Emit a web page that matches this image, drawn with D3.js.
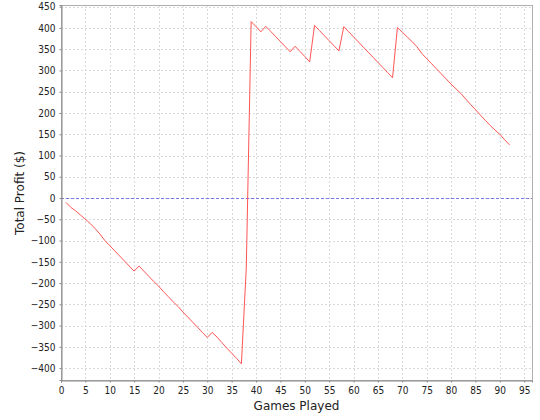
<!DOCTYPE html>
<html>
<head>
<meta charset="utf-8">
<script src="https://cdn.jsdelivr.net/npm/d3@7"></script>
<style>
  body { margin: 0; background: #fff; }
  svg { display: block; }
  .tick text { font-family: "DejaVu Sans Condensed", "DejaVu Sans", sans-serif; font-size: 10px; fill: #222; }
  .axis-label { font-family: "DejaVu Sans", sans-serif; font-size: 12px; fill: #222; }
</style>
</head>
<body>
<div id="chart"></div>
<script>
// games played (x) and running total profit (y)
var games = d3.range(1, 93);
var profit = [
  -10, -22, -30, -40, -50, -60, -72, -85, -100, -112,
  -124, -136, -148, -160, -172, -160, -172, -184, -196, -207,
  -220, -232, -244, -255, -268, -280, -292, -304, -316, -328,
  -316, -327, -340, -353, -365, -377, -390, -165, 415, 403,
  391, 404, 392, 380, 368, 356, 344, 357, 345, 333,
  320, 406, 394, 382, 370, 358, 346, 403, 391, 379,
  367, 355, 343, 331, 319, 307, 295, 283, 401, 390,
  379, 368, 356, 340, 328, 316, 304, 292, 280, 268,
  257, 246, 233, 220, 208, 195, 183, 171, 160, 150,
  137, 125
];
var xTicks = d3.range(0, 100, 5);
var yTicks = d3.range(-400, 451, 50);

var width = 540, height = 420;
var margin = { top: 5, right: 8, bottom: 40, left: 61 };
var plotW = width - margin.left - margin.right;
var plotH = height - margin.top - margin.bottom;

var svg = d3.select("#chart").append("svg")
  .attr("width", width)
  .attr("height", height);

var g = svg.append("g")
  .attr("transform", "translate(" + margin.left + "," + margin.top + ")");

var x = d3.scaleLinear().domain([0, 96.6]).range([0, plotW]);
var y = d3.scaleLinear().domain([-428, 454]).range([plotH, 0]);

// grid
g.append("g").selectAll("line").data(xTicks).enter().append("line")
  .attr("x1", function(d) { return Math.round(x(d)) + 0.5; })
  .attr("x2", function(d) { return Math.round(x(d)) + 0.5; })
  .attr("y1", 0).attr("y2", plotH)
  .attr("stroke", "#dadada").attr("stroke-dasharray", "2,2");

g.append("g").selectAll("line").data(yTicks).enter().append("line")
  .attr("y1", function(d) { return Math.round(y(d)) + 0.5; })
  .attr("y2", function(d) { return Math.round(y(d)) + 0.5; })
  .attr("x1", 0).attr("x2", plotW)
  .attr("stroke", "#dadada").attr("stroke-dasharray", "2,2");

// zero marker
g.append("line")
  .attr("x1", 0).attr("x2", plotW)
  .attr("y1", Math.round(y(0)) + 0.5).attr("y2", Math.round(y(0)) + 0.5)
  .attr("stroke", "#7a7ae8").attr("stroke-dasharray", "3,2");

// plot border (right/top)
g.append("rect")
  .attr("x", 0.5).attr("y", 0.5)
  .attr("width", plotW).attr("height", plotH)
  .attr("fill", "none").attr("stroke", "#b0b0b0");

// profit line
var line = d3.line()
  .x(function(d, i) { return x(games[i]); })
  .y(function(d) { return y(d); });

g.append("path")
  .datum(profit)
  .attr("d", line)
  .attr("fill", "none")
  .attr("stroke", "#ff5555")
  .attr("stroke-width", 1);

// axes
var xAxis = g.append("g")
  .attr("transform", "translate(0," + (plotH + 0.5) + ")")
  .call(d3.axisBottom(x).tickValues(xTicks).tickSize(2).tickPadding(4));

var yAxis = g.append("g")
  .attr("transform", "translate(0.5,0)")
  .call(d3.axisLeft(y).tickValues(yTicks).tickSize(2).tickPadding(4));

[xAxis, yAxis].forEach(function(a) {
  a.select(".domain").attr("stroke", "#888");
  a.selectAll(".tick line").attr("stroke", "#888");
});

svg.append("text")
  .attr("class", "axis-label")
  .attr("x", margin.left + plotW / 2)
  .attr("y", 410)
  .attr("text-anchor", "middle")
  .text("Games Played");

svg.append("text")
  .attr("class", "axis-label")
  .attr("transform", "translate(24," + (margin.top + y(0) - 5) + ") rotate(-90)")
  .attr("text-anchor", "middle")
  .text("Total Profit ($)");
</script>
</body>
</html>
